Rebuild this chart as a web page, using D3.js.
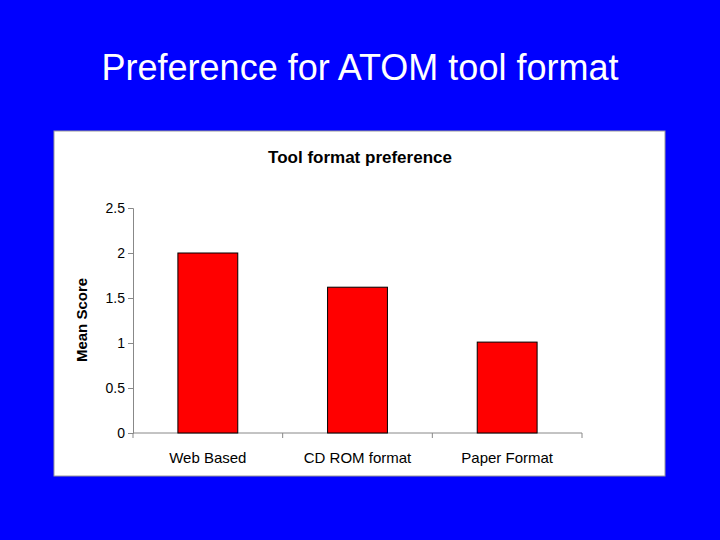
<!DOCTYPE html>
<html>
<head>
<meta charset="utf-8">
<script src="https://cdn.jsdelivr.net/npm/d3@7"></script>
<style>
  body { margin: 0; background: #0000ff; }
  svg { display: block; }
</style>
</head>
<body>
<script>
var categories = ['Web Based', 'CD ROM format', 'Paper Format']
var values = [2.0, 1.62, 1.01]
var yTicks = [0, 0.5, 1, 1.5, 2, 2.5]

var svg = d3.select('body').append('svg').attr('width', 720).attr('height', 540)

svg.append('rect').attr('width', 720).attr('height', 540).attr('fill', '#0000ff')

svg.append('text')
  .attr('x', 360).attr('y', 80)
  .attr('text-anchor', 'middle')
  .attr('font-family', 'Liberation Sans, Arial, sans-serif')
  .attr('font-size', 36)
  .attr('fill', '#fff')
  .text('Preference for ATOM tool format')

svg.append('rect')
  .attr('x', 54).attr('y', 131).attr('width', 611).attr('height', 345)
  .attr('fill', '#fff').attr('stroke', '#999')

svg.append('text')
  .attr('x', 360).attr('y', 163)
  .attr('text-anchor', 'middle')
  .attr('font-family', 'Liberation Sans, Arial, sans-serif')
  .attr('font-size', 17).attr('font-weight', 'bold')
  .text('Tool format preference')

var x = d3.scaleBand().domain(categories).range([133, 582]).paddingInner(0.6).paddingOuter(0.3)
var y = d3.scaleLinear().domain([0, 2.5]).range([433, 208])

var yAxis = svg.append('g').attr('transform', 'translate(133,0)')
  .call(d3.axisLeft(y).tickValues(yTicks).tickFormat(d3.format('')).tickSize(5))
yAxis.selectAll('path,line').attr('stroke', '#888')
yAxis.selectAll('text').attr('font-family', 'Liberation Sans, Arial, sans-serif').attr('font-size', 14).attr('fill', '#000')

svg.append('line').attr('x1', 133).attr('x2', 582).attr('y1', 433).attr('y2', 433).attr('stroke', '#888')
var step = 449 / categories.length
d3.range(categories.length + 1).forEach(function (i) {
  svg.append('line').attr('x1', 133 + i * step).attr('x2', 133 + i * step)
    .attr('y1', 433).attr('y2', 438).attr('stroke', '#888')
})

svg.selectAll('.bar').data(values).enter().append('rect')
  .attr('class', 'bar')
  .attr('x', function (d, i) { return x(categories[i]) })
  .attr('width', x.bandwidth())
  .attr('y', function (d) { return y(d) })
  .attr('height', function (d) { return y(0) - y(d) })
  .attr('fill', '#ff0000').attr('stroke', '#000')

svg.selectAll('.cat').data(categories).enter().append('text')
  .attr('x', function (d) { return x(d) + x.bandwidth() / 2 })
  .attr('y', 463)
  .attr('text-anchor', 'middle')
  .attr('font-family', 'Liberation Sans, Arial, sans-serif')
  .attr('font-size', 15)
  .text(function (d) { return d })

svg.append('text')
  .attr('transform', 'translate(87,320) rotate(-90)')
  .attr('text-anchor', 'middle')
  .attr('font-family', 'Liberation Sans, Arial, sans-serif')
  .attr('font-size', 15).attr('font-weight', 'bold')
  .text('Mean Score')
</script>
</body>
</html>
